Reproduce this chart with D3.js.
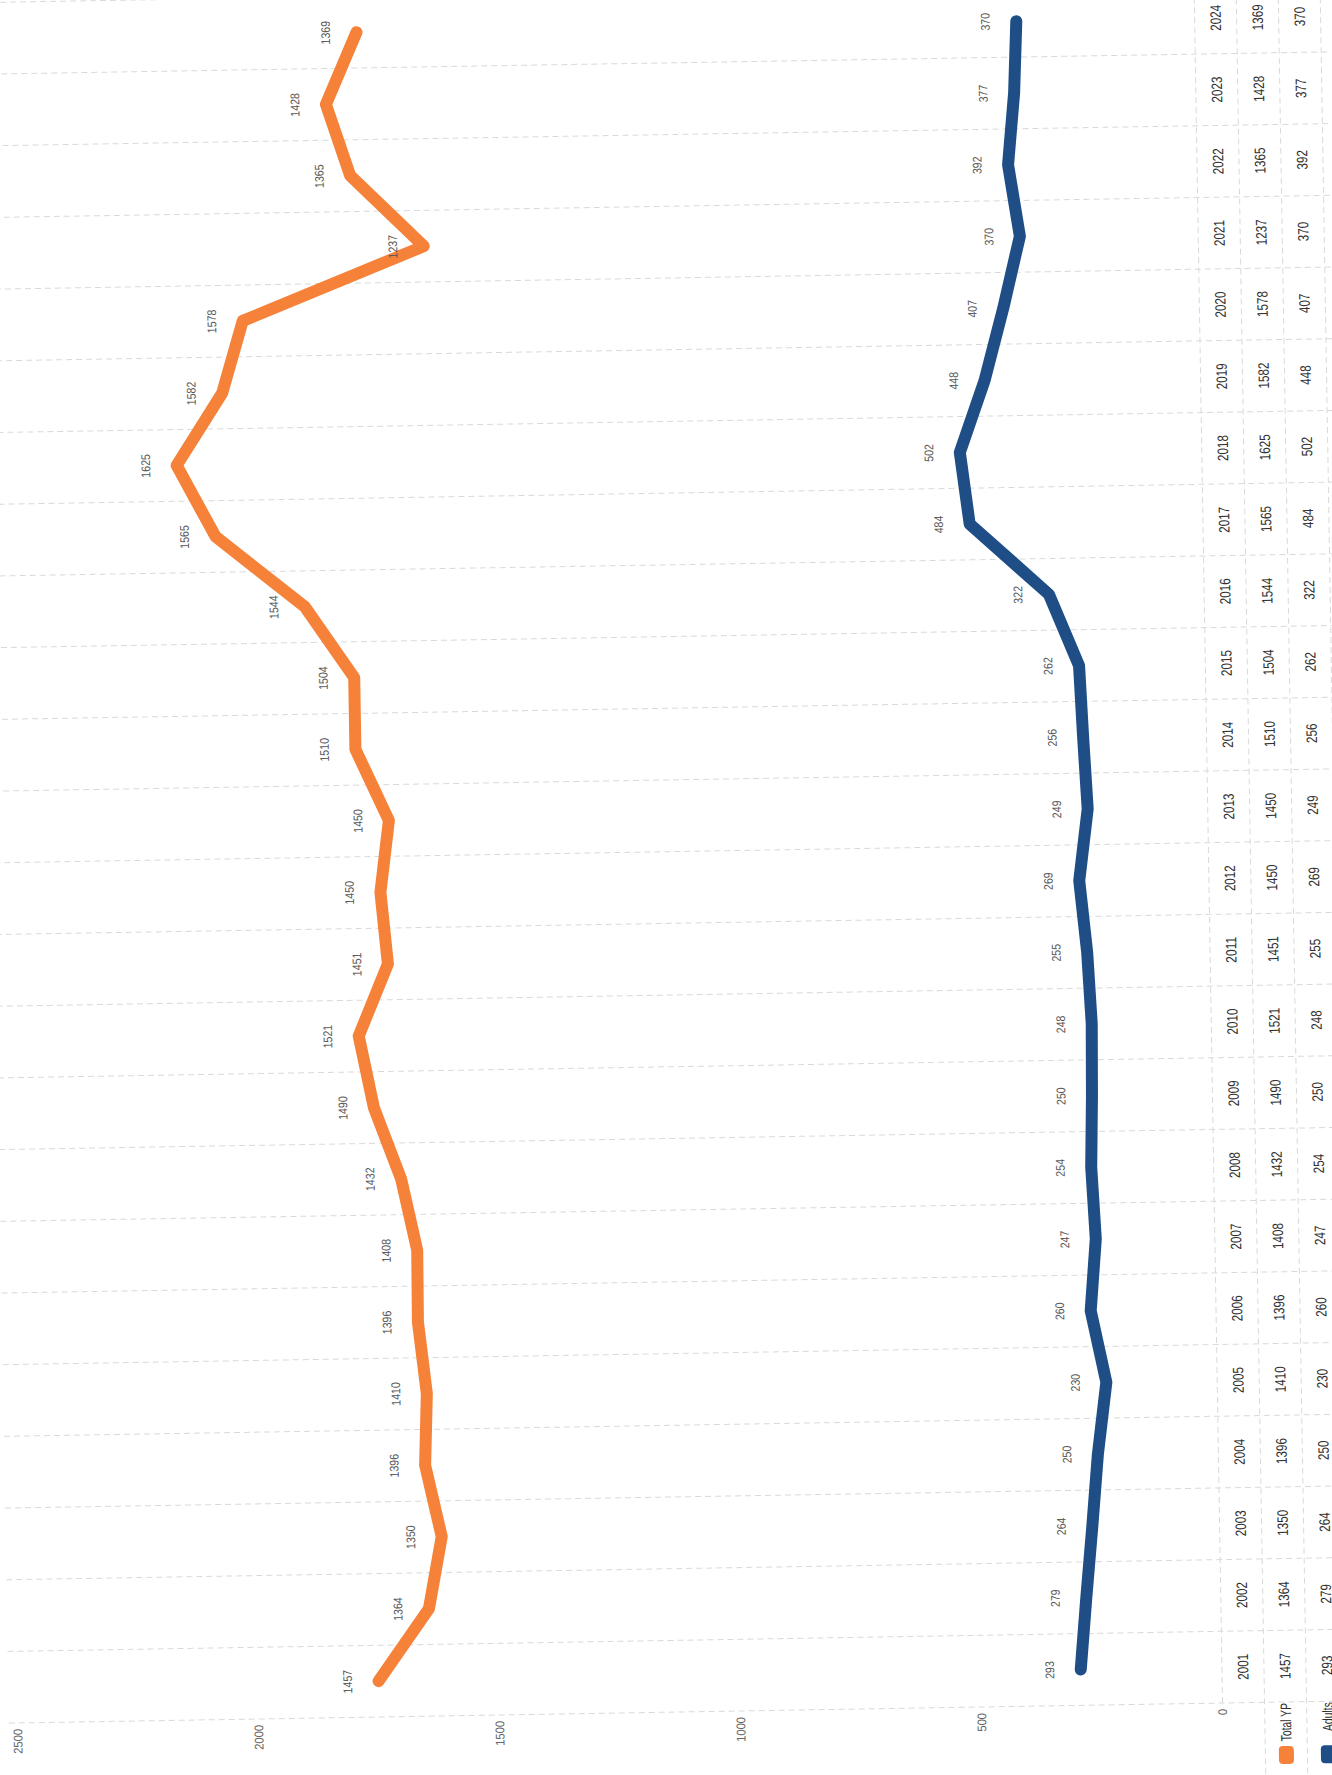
<!DOCTYPE html>
<html>
<head>
<meta charset="utf-8">
<script src="https://cdn.jsdelivr.net/npm/d3@7/dist/d3.min.js"></script>
<style>
  html, body { margin: 0; padding: 0; background: #fff; }
  svg { display: block; }
  text { font-family: 'Liberation Sans', Arial, sans-serif; }
</style>
</head>
<body>
<svg width="1332" height="1775"></svg>
<script>
// data
const years = [2001, 2002, 2003, 2004, 2005, 2006, 2007, 2008, 2009, 2010, 2011, 2012,
  2013, 2014, 2015, 2016, 2017, 2018, 2019, 2020, 2021, 2022, 2023, 2024]
const totalYP = [1457, 1364, 1350, 1396, 1410, 1396, 1408, 1432, 1490, 1521, 1451, 1450,
  1450, 1510, 1504, 1544, 1565, 1625, 1582, 1578, 1237, 1365, 1428, 1369]
const adults = [293, 279, 264, 250, 230, 260, 247, 254, 250, 248, 255, 269,
  249, 256, 262, 322, 484, 502, 448, 407, 370, 392, 377, 370]
const valueTicks = [0, 500, 1000, 1500, 2000, 2500]
const seriesNames = ['Total YP', 'Adults']

window.onload = function () {
  let svg = d3.select('svg')
  const orange = '#f6823a'
  const blue = '#1e4e85'
  const grid = '#d9d9d9'

  // narrow font look: squeeze each label to a fixed width per character
  function narrow(sel, perChar) {
    sel.attr('textLength', function () { return this.textContent.length * perChar })
      .attr('lengthAdjust', 'spacingAndGlyphs')
  }

  // the page was scanned sideways: draw landscape, then turn it (plus a slight scan tilt)
  let g = svg.append('g')
    .attr('transform', 'rotate(-0.95,1222,1670) translate(0,1775) rotate(-90)')

  let x = d3.scaleBand().domain(years).range([72, 72 + 24 * 71.7])
  let y = d3.scaleLinear().domain([0, 2500]).range([1222, 17])
  let cx = d => x(d) + x.bandwidth() / 2

  const rowH = 42
  const tableTop = y(0)
  const rowMid = [tableTop + rowH / 2, tableTop + rowH * 1.5, tableTop + rowH * 2.5]

  // vertical gridlines between categories, running through the data table
  let bounds = years.map(d => x(d)).concat([x(years[years.length - 1]) + x.bandwidth()])
  g.append('g').selectAll('line')
    .data(bounds)
    .enter()
    .append('line')
    .attr('x1', d => d).attr('x2', d => d)
    .attr('y1', 8).attr('y2', tableTop + rowH * 3 + 10)
    .attr('stroke', grid)
    .attr('stroke-width', 1)
    .attr('stroke-dasharray', '6,4')

  // table row lines
  let rowLines = [
    { y: tableTop, x1: 72 },
    { y: tableTop + rowH, x1: -40 },
    { y: tableTop + rowH * 2, x1: -40 },
    { y: tableTop + rowH * 3, x1: -40 }
  ]
  g.append('g').selectAll('line')
    .data(rowLines)
    .enter()
    .append('line')
    .attr('x1', d => d.x1).attr('x2', bounds[bounds.length - 1])
    .attr('y1', d => d.y).attr('y2', d => d.y)
    .attr('stroke', grid)
    .attr('stroke-width', 1)
    .attr('stroke-dasharray', '6,4')

  // value axis labels
  g.append('g').selectAll('text')
    .data(valueTicks)
    .enter()
    .append('text')
    .attr('x', 66)
    .attr('y', d => y(d))
    .attr('dy', '0.35em')
    .attr('text-anchor', 'end')
    .attr('font-size', 12.5)
    .attr('fill', '#666')
    .text(d => d)
    .call(narrow, 6.2)

  // stacked lines: Adults at the bottom, Total YP stacked on top
  let rows = years.map((yr, i) => ({ year: yr, adults: adults[i], total: totalYP[i] }))
  let stacked = d3.stack().keys(['adults', 'total'])(rows)
  let colors = { adults: blue, total: orange }

  let line = d3.line()
    .x(d => cx(d.data.year))
    .y(d => y(d[1]))

  g.append('g').selectAll('path')
    .data(stacked)
    .enter()
    .append('path')
    .attr('d', line)
    .attr('fill', 'none')
    .attr('stroke', d => colors[d.key])
    .attr('stroke-width', 12)
    .attr('stroke-linejoin', 'round')
    .attr('stroke-linecap', 'round')

  // data labels above each point
  stacked.forEach(function (s) {
    g.append('g').selectAll('text')
      .data(s)
      .enter()
      .append('text')
      .attr('x', d => cx(d.data.year))
      .attr('y', d => y(d[1]) - 31)
      .attr('dy', '0.35em')
      .attr('text-anchor', 'middle')
      .attr('font-size', 12.5)
      .attr('fill', '#595959')
      .text(d => d.data[s.key])
      .call(narrow, 5.9)
  })

  // data table
  let table = g.append('g').attr('font-size', 15).attr('fill', '#303030').attr('text-anchor', 'middle')
  let tableRows = [years, totalYP, adults]
  tableRows.forEach(function (vals, r) {
    table.append('g').selectAll('text')
      .data(vals)
      .enter()
      .append('text')
      .attr('x', (d, i) => cx(years[i]))
      .attr('y', rowMid[r])
      .attr('dy', '0.35em')
      .text(d => d)
      .call(narrow, 6.5)
  })

  // legend keys inside the table
  let keys = [{ name: seriesNames[0], color: orange, row: 1 }, { name: seriesNames[1], color: blue, row: 2 }]
  let legend = g.append('g').selectAll('g')
    .data(keys)
    .enter()
    .append('g')
  legend.append('rect')
    .attr('x', 10)
    .attr('y', d => rowMid[d.row] - 7.5)
    .attr('width', 18)
    .attr('height', 15)
    .attr('rx', 4)
    .attr('fill', d => d.color)
  legend.append('text')
    .attr('x', 71)
    .attr('y', d => rowMid[d.row])
    .attr('dy', '0.35em')
    .attr('text-anchor', 'end')
    .attr('font-size', 15)
    .attr('fill', '#303030')
    .text(d => d.name)
    .call(narrow, 4.8)
}
</script>
</body>
</html>
